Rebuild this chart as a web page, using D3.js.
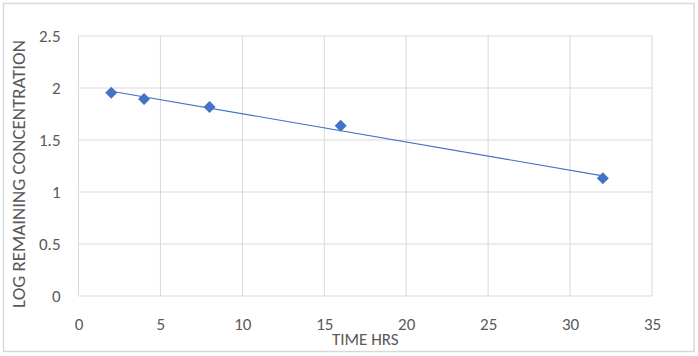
<!DOCTYPE html>
<html><head><meta charset="utf-8">
<script src="https://cdn.jsdelivr.net/npm/d3@7"></script>
<style>
html,body{margin:0;padding:0;background:#fff;}
svg{display:block;}
text{font-family:Carlito,Calibri,Lato,"Liberation Sans",sans-serif;fill:#595959;}
</style></head>
<body>
<script>
const timeHrs = [2, 4, 8, 16, 32];
const logConc = [1.955, 1.894, 1.817, 1.638, 1.132];
const xTicks = [0, 5, 10, 15, 20, 25, 30, 35];
const yTicks = [0, 0.5, 1, 1.5, 2, 2.5];
const xTitle = "TIME HRS";
const yTitle = "LOG REMAINING CONCENTRATION";

const W = 698, H = 356;
const m = {left: 78.5, right: 46, top: 36, bottom: 60};
const svg = d3.select("body").append("svg").attr("width", W).attr("height", H);

svg.append("rect").attr("x", 3.5).attr("y", 3.5).attr("width", W - 7.5).attr("height", H - 8)
  .attr("fill", "#fff").attr("stroke", "#d9d9d9").attr("stroke-width", 1.5);

const x = d3.scaleLinear().domain([0, 35]).range([m.left, W - m.right]);
const y = d3.scaleLinear().domain([0, 2.5]).range([H - m.bottom, m.top]);

// grid
svg.append("g").selectAll("line").data(xTicks).join("line")
  .attr("x1", d => x(d)).attr("x2", d => x(d)).attr("y1", y(0)).attr("y2", y(2.5))
  .attr("stroke", "#d9d9d9").attr("stroke-width", 1);
svg.append("g").selectAll("line").data(yTicks).join("line")
  .attr("x1", x(0)).attr("x2", x(35)).attr("y1", d => y(d)).attr("y2", d => y(d))
  .attr("stroke", "#d9d9d9").attr("stroke-width", 1);

// axes labels via d3 axes
const xAxis = svg.append("g").attr("transform", `translate(0,${y(0)})`)
  .call(d3.axisBottom(x).tickValues(xTicks).tickSize(0).tickPadding(22).tickFormat(d3.format("")));
const yAxis = svg.append("g").attr("transform", `translate(${x(0)},0)`)
  .call(d3.axisLeft(y).tickValues(yTicks).tickSize(0).tickPadding(18).tickFormat(d => String(d)));
[xAxis, yAxis].forEach(g => {
  g.select(".domain").remove();
  g.selectAll("text").attr("font-size", 17).style("fill", "#595959")
    .style("font-family", "Carlito,Calibri,Lato,sans-serif");
});

// trendline (linear regression)
const n = timeHrs.length;
const mx = d3.mean(timeHrs), my = d3.mean(logConc);
const sxy = d3.sum(timeHrs, (t, i) => (t - mx) * (logConc[i] - my));
const sxx = d3.sum(timeHrs, t => (t - mx) * (t - mx));
const slope = sxy / sxx, intercept = my - slope * mx;
const ext = d3.extent(timeHrs);
svg.append("path")
  .datum(ext.map(t => [t, intercept + slope * t]))
  .attr("d", d3.line().x(d => x(d[0])).y(d => y(d[1])))
  .attr("fill", "none").attr("stroke", "#4472C4").attr("stroke-width", 1.1);

// markers
svg.append("g").selectAll("path").data(timeHrs.map((t, i) => [t, logConc[i]])).join("path")
  .attr("d", d3.symbol(d3.symbolSquare, 72))
  .attr("transform", d => `translate(${x(d[0])},${y(d[1])}) rotate(45)`)
  .attr("fill", "#4472C4");

// titles
svg.append("text").attr("x", (x(0) + x(35)) / 2).attr("y", 345)
  .attr("text-anchor", "middle").attr("font-size", 17).text(xTitle);
const yt = svg.append("text").attr("transform", `translate(25,${(40 + 308) / 2}) rotate(-90)`)
  .attr("text-anchor", "middle").attr("font-size", 17).text(yTitle);
const len = yt.node().getComputedTextLength();
if (len > 0) yt.attr("font-size", 17 * 268 / len);
</script>
</body></html>
